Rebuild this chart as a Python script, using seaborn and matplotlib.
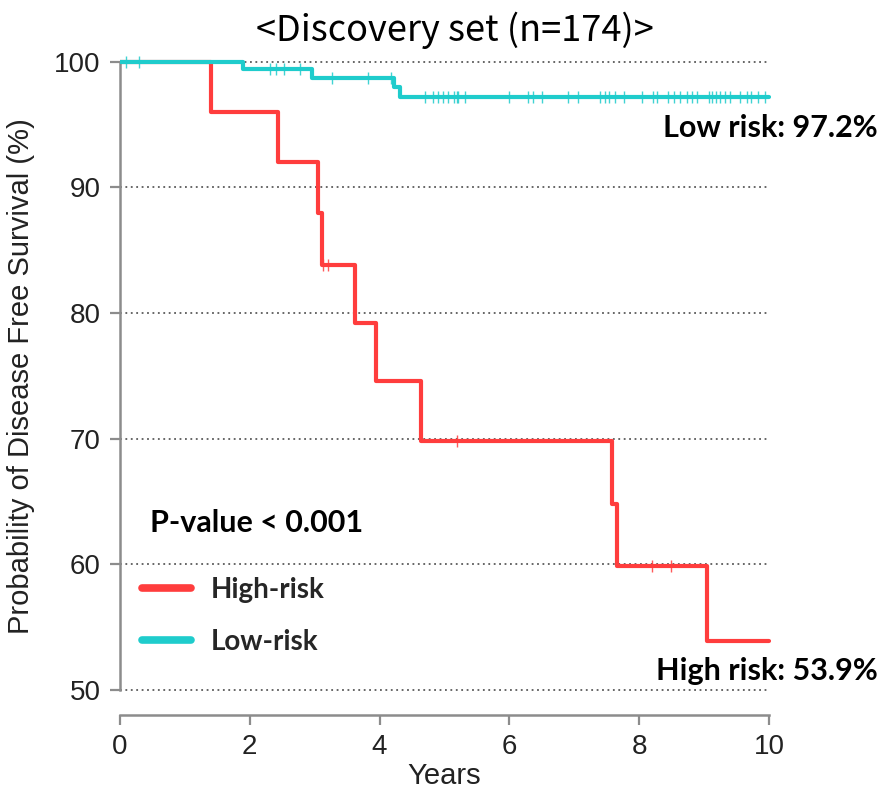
import numpy as np
import pandas as pd
import matplotlib
matplotlib.use("Agg")
import matplotlib.pyplot as plt
import seaborn as sns
from matplotlib.lines import Line2D
from matplotlib.font_manager import FontProperties

# Kaplan-Meier step curves (time in years, disease-free survival in %)
groups = ["High-risk", "Low-risk"]
high_times = [0.0, 1.40, 2.43, 3.05, 3.11, 3.62, 3.94, 4.64, 7.58, 7.65, 9.05, 10.0]
high_surv = [100.0, 96.0, 92.0, 88.0, 83.8, 79.2, 74.6, 69.8, 64.8, 59.9, 53.9, 53.9]
low_times = [0.0, 1.90, 2.96, 4.22, 4.31, 10.0]
low_surv = [100.0, 99.4, 98.7, 98.0, 97.2, 97.2]

# Censored observations (years)
high_censor = [3.13, 3.20, 5.19, 8.19, 8.49]
low_censor = [0.09, 0.30, 2.31, 2.41, 2.52, 2.77, 3.27, 3.82, 4.17,
              4.70, 4.83, 4.90, 4.98, 5.06, 5.14, 5.19, 5.21, 5.32,
              6.00, 6.28, 6.37, 6.50, 6.91, 7.06, 7.40, 7.47, 7.54, 7.63,
              7.76, 8.04, 8.22, 8.27, 8.45, 8.53, 8.63, 8.73, 8.81, 8.89,
              9.07, 9.12, 9.19, 9.24, 9.32, 9.40, 9.55, 9.66, 9.73, 9.83, 9.94]

y_ticks = [50, 60, 70, 80, 90, 100]
x_ticks = [0, 2, 4, 6, 8, 10]

title = "<Discovery set (n=174)>"
p_text = "P-value < 0.001"
low_note = "Low risk: 97.2%"
high_note = "High risk: 53.9%"

palette = {"High-risk": "#FF3D3D", "Low-risk": "#1FCCCC"}

sns.set_theme(style="white")
plt.rcParams["font.family"] = ["Liberation Sans", "DejaVu Sans"]

W, H = 884, 794
fig = plt.figure(figsize=(W / 100, H / 100), dpi=100)
ax = fig.add_axes([120 / W, 79 / H, 662 / W, 660.7 / H])

curves = pd.concat([
    pd.DataFrame({"Years": high_times, "Survival": high_surv, "Group": "High-risk"}),
    pd.DataFrame({"Years": low_times, "Survival": low_surv, "Group": "Low-risk"}),
], ignore_index=True)


def step_value(times, surv, t):
    idx = np.searchsorted(times, t, side="right") - 1
    return surv[idx]


# dotted reference lines
for y in y_ticks:
    ax.hlines(y, 0, 10, colors="#5a5a5a", linestyles=(0, (1, 2)), lw=1.3, zorder=1)

sns.lineplot(data=curves, x="Years", y="Survival", hue="Group", palette=palette,
             drawstyle="steps-post", estimator=None, sort=False, lw=3.0,
             legend=False, ax=ax, zorder=3)

for times, surv, cens, g in [(high_times, high_surv, high_censor, "High-risk"),
                             (low_times, low_surv, low_censor, "Low-risk")]:
    ys = [step_value(times, surv, t) for t in cens]
    ax.plot(cens, ys, ls="none", marker="|", ms=9, mew=1.0,
            color=palette[g], alpha=0.85, zorder=4)

ax.set_xlim(0, 10.2)
ax.set_ylim(48.0, 100.6)
ax.set_xticks(x_ticks)
ax.set_yticks(y_ticks)
ax.set_xticklabels([str(v) for v in x_ticks])
ax.set_yticklabels([str(v) for v in y_ticks])

for side in ["top", "right"]:
    ax.spines[side].set_visible(False)
ax.spines["left"].set_bounds(50, 100)
ax.spines["bottom"].set_bounds(0, 10)
for side in ["left", "bottom"]:
    ax.spines[side].set_color("#8c8c8c")
    ax.spines[side].set_linewidth(1.8)

ax.tick_params(axis="both", which="major", direction="out", length=7, width=1.6,
               color="#8c8c8c", labelsize=20, labelcolor="#222222", pad=7,
               left=True, bottom=True)

ax.set_xlabel("Years", fontsize=21, color="#222222")
ax.xaxis.set_label_coords(5 / 10.2, -0.071)
ax.set_ylabel("Probability of Disease Free Survival (%)", fontsize=21,
              color="#222222")
ax.yaxis.set_label_coords(-0.128, (75 - 48.0) / (100.6 - 48.0))
ax.grid(False)

# title and annotations
fig.text(455 / W, 1 - 30 / H, title, ha="center", va="center", fontsize=26,
         family=["Noto Sans CJK KR", "DejaVu Sans"], color="black")

bold = dict(family=["Lato", "DejaVu Sans"], fontweight="bold", color="black")
fig.text(878 / W, 1 - 128 / H, low_note, ha="right", va="center", fontsize=22, **bold)
fig.text(878 / W, 1 - 671 / H, high_note, ha="right", va="center", fontsize=22, **bold)
fig.text(150 / W, 1 - 523 / H, p_text, ha="left", va="center", fontsize=22, **bold)

handles = [Line2D([0], [0], color=palette[g], lw=5.5) for g in groups]
ax.legend(handles, groups, loc="center left",
          bbox_to_anchor=(142 / W, 1 - 616 / H), bbox_transform=fig.transFigure,
          frameon=False, borderpad=0, borderaxespad=0,
          prop=FontProperties(family="Lato", weight="bold", size=20),
          handlelength=1.75, handletextpad=0.72, labelspacing=0.95)

fig.savefig("out.png", dpi=100)
